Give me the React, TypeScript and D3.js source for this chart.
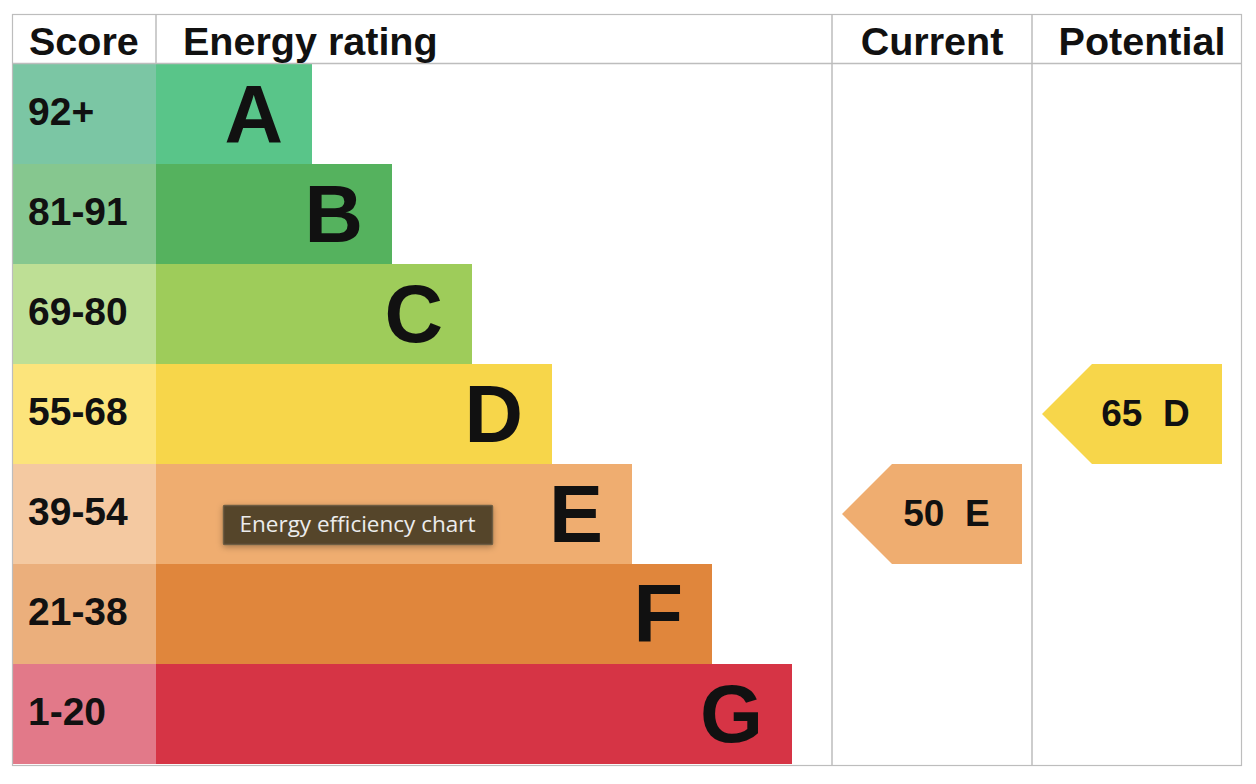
import React from "react";
import * as d3 from "d3";

const ratings = ["A", "B", "C", "D", "E", "F", "G"];
const scoreRanges = ["92+", "81-91", "69-80", "55-68", "39-54", "21-38", "1-20"];
const barColors = ["#59c589", "#55b25e", "#9ecc5a", "#f7d64a", "#efad70", "#e0863c", "#d63445"];
const scoreColors = ["#7bc6a4", "#86c78f", "#bedf95", "#fce47b", "#f4c9a1", "#ebaf7c", "#e27989"];
const headers = ["Score", "Energy rating", "Current", "Potential"];
const currentScore = 50;
const currentRating = "E";
const potentialScore = 65;
const potentialRating = "D";
const tooltipText = "Energy efficiency chart";

const W = 1256;
const H = 784;
const left = 12, right = 1241, top = 14, headerBottom = 64, bottom = 764;
const colScoreEnd = 156, colRatingEnd = 832, colCurrentEnd = 1032;

export default function App() {
  const y = d3.scaleBand<string>().domain(ratings).range([headerBottom, bottom]).padding(0);
  const barEnd = d3.scaleLinear().domain([0, ratings.length - 1]).range([312, 792]);
  const font = "'Liberation Sans', Arial, Helvetica, sans-serif";
  const grey = "#bdbdbd";

  const arrow = (x0: number, x1: number, r: string) => {
    const t = y(r)!;
    const h = y.bandwidth();
    const p = d3.path();
    p.moveTo(x0, t + h / 2);
    p.lineTo(x0 + 50, t);
    p.lineTo(x1, t);
    p.lineTo(x1, t + h);
    p.lineTo(x0 + 50, t + h);
    p.closePath();
    return p.toString();
  };

  const curIdx = ratings.indexOf(currentRating);
  const potIdx = ratings.indexOf(potentialRating);

  return (
    <svg width={W} height={H} style={{ position: "absolute", left: 0, top: 0, display: "block" }}>
      <defs>
        <filter id="sh" x="-20%" y="-50%" width="140%" height="200%">
          <feDropShadow dx="0" dy="2" stdDeviation="3" floodColor="#000" floodOpacity="0.3" />
        </filter>
      </defs>
      <rect x={0} y={0} width={W} height={H} fill="#fff" />
      {ratings.map((r, i) => (
        <g key={r}>
          <rect x={left} y={y(r)} width={colScoreEnd - left} height={y.bandwidth()} fill={scoreColors[i]} />
          <rect x={colScoreEnd} y={y(r)} width={barEnd(i) - colScoreEnd} height={y.bandwidth()} fill={barColors[i]} />
          <text x={28} y={y(r)! + y.bandwidth() / 2 + 11} fontFamily={font} fontWeight="bold" fontSize={39} fill="#111">
            {scoreRanges[i]}
          </text>
          <text x={barEnd(i) - 29} y={y(r)! + y.bandwidth() / 2 + 28} textAnchor="end" fontFamily={font} fontWeight="bold" fontSize={81} fill="#111">
            {r}
          </text>
        </g>
      ))}
      {/* grid lines */}
      <rect x={left + 0.5} y={top + 0.5} width={right - left} height={bottom - top + 1} fill="none" stroke={grey} strokeWidth={1.2} />
      <line x1={left} x2={right} y1={headerBottom - 0.5} y2={headerBottom - 0.5} stroke={grey} strokeWidth={1.5} />
      <line x1={colScoreEnd} x2={colScoreEnd} y1={top} y2={headerBottom} stroke={grey} strokeWidth={1.5} />
      <line x1={colRatingEnd} x2={colRatingEnd} y1={top} y2={bottom + 1} stroke={grey} strokeWidth={1.5} />
      <line x1={colCurrentEnd} x2={colCurrentEnd} y1={top} y2={bottom + 1} stroke={grey} strokeWidth={1.5} />
      {/* headers */}
      <text x={29} y={55} fontFamily={font} fontWeight="bold" fontSize={39.5} fill="#111">{headers[0]}</text>
      <text x={183} y={55} fontFamily={font} fontWeight="bold" fontSize={39.5} fill="#111">{headers[1]}</text>
      <text x={932} y={55} textAnchor="middle" fontFamily={font} fontWeight="bold" fontSize={39.5} fill="#111">{headers[2]}</text>
      <text x={1142} y={55} textAnchor="middle" fontFamily={font} fontWeight="bold" fontSize={39.5} fill="#111">{headers[3]}</text>
      {/* arrows */}
      <path d={arrow(842, 1022, currentRating)} fill={barColors[curIdx]} />
      <text x={946.5} y={y(currentRating)! + y.bandwidth() / 2 + 12} textAnchor="middle" fontFamily={font} fontWeight="bold" fontSize={37} fill="#111" style={{ whiteSpace: "pre" }}>
        {`${currentScore}  ${currentRating}`}
      </text>
      <path d={arrow(1042, 1222, potentialRating)} fill={barColors[potIdx]} />
      <text x={1145.5} y={y(potentialRating)! + y.bandwidth() / 2 + 12} textAnchor="middle" fontFamily={font} fontWeight="bold" fontSize={37} fill="#111" style={{ whiteSpace: "pre" }}>
        {`${potentialScore}  ${potentialRating}`}
      </text>
      {/* tooltip */}
      <g filter="url(#sh)">
        <rect x={223.5} y={505.5} width={269} height={39} fill="#54442b" stroke="#6e5d42" strokeWidth={1.5} rx={1} />
      </g>
      <text x={357.5} y={532} textAnchor="middle" fontFamily="'Open Sans', 'Noto Sans', sans-serif" fontSize={22.5} fill="#ececec">
        {tooltipText}
      </text>
    </svg>
  );
}
